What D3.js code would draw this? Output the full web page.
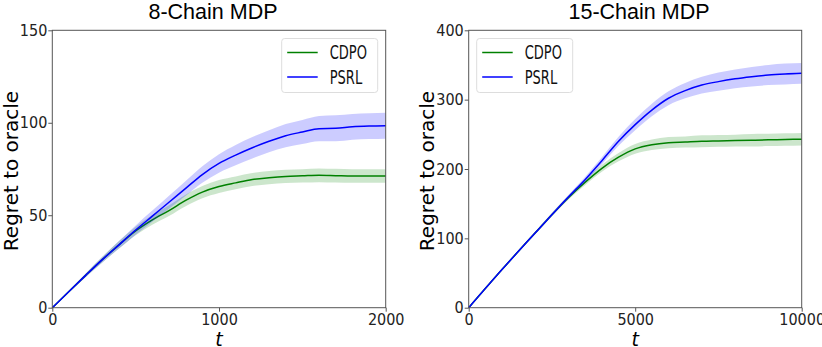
<!DOCTYPE html>
<html>
<head>
<meta charset="utf-8">
<script src="https://cdn.jsdelivr.net/npm/d3@7"></script>
<style>
  body { margin: 0; background: #fff; }
  svg { display: block; }
</style>
</head>
<body>
<svg width="822" height="347"></svg>
<script>
// ---- data ----
const seriesNames = ["CDPO", "PSRL"];
const seriesColors = ["#008000", "#0000ff"];

// 8-chain panel
const t8 = [0, 100, 200, 300, 400, 500, 600, 700, 800, 900, 1000, 1100, 1200, 1300, 1400, 1500, 1600, 1700, 1800, 1900, 2000];
const cdpo8 = [0, 8.8, 17.5, 26, 34, 41.5, 47.5, 52.5, 58, 62.5, 65.5, 67.5, 69.3, 70.3, 71, 71.3, 71.6, 71.4, 71.2, 71.2, 71.2];
const psrl8 = [0, 8.8, 17.5, 26, 34, 42, 49.5, 57, 64.5, 72, 78, 82.5, 86.5, 90, 93, 95, 96.8, 97, 97.8, 98.2, 98.4];
const cdpo8Err = [0, 0.5, 1, 1.5, 2, 2.3, 2.6, 2.9, 3.1, 3.3, 3.5, 3.5, 3.5, 3.6, 3.6, 3.6, 3.7, 3.7, 3.7, 3.7, 3.7];
const psrl8Err = [0, 0.5, 1, 1.5, 2, 2.5, 3, 3.5, 4, 4.5, 5, 5.5, 5.8, 6, 6.3, 6.5, 6.8, 7, 7, 7, 7];
const xTicks8 = [0, 1000, 2000];
const yTicks8 = [0, 50, 100, 150];

// 15-chain panel
const t15 = [0, 1000, 2000, 3000, 3500, 4000, 4500, 5000, 5500, 6000, 6500, 7000, 7500, 8000, 8500, 9000, 9500, 10000];
const cdpo15 = [0, 55, 108, 159, 181, 201, 217, 229, 235, 238, 239, 240, 240.5, 241, 241.5, 242, 242.5, 243];
const psrl15 = [0, 55, 108, 160, 185, 212, 240, 264, 285, 302, 313, 321, 326, 330, 333, 335.5, 337, 338];
const cdpo15Err = [0, 1, 2, 3, 4, 5, 6, 7, 7.5, 8, 8, 8.5, 8.5, 8.5, 9, 9, 9, 9];
const psrl15Err = [0, 1, 2, 3, 4, 5, 6.5, 8, 9, 10, 11, 12, 13, 13.5, 14, 14.5, 15, 15];
const xTicks15 = [0, 5000, 10000];
const yTicks15 = [0, 100, 200, 300, 400];

const svg = d3.select("svg");
const tickFont = "'Liberation Sans Narrow', 'DejaVu Sans Condensed', sans-serif";

function drawPanel(p) {
  const x = d3.scaleLinear([0, p.xMax], [p.left, p.right]);
  const y = d3.scaleLinear([0, p.yMax], [307.7, 30.3]);
  const g = svg.append("g");

  const series = [
    {vals: p.cdpo, err: p.cdpoErr, color: seriesColors[0]},
    {vals: p.psrl, err: p.psrlErr, color: seriesColors[1]}
  ];

  series.forEach(s => {
    const pts = p.t.map((t, i) => ({t: t, v: s.vals[i], e: s.err[i]}));
    g.append("path")
      .datum(pts)
      .attr("fill", s.color)
      .attr("fill-opacity", 0.2)
      .attr("stroke", "none")
      .attr("d", d3.area()
        .curve(d3.curveMonotoneX)
        .x(d => x(d.t))
        .y0(d => y(d.v - d.e))
        .y1(d => y(d.v + d.e)));
    g.append("path")
      .datum(pts)
      .attr("fill", "none")
      .attr("stroke", s.color)
      .attr("stroke-width", 1.5)
      .attr("d", d3.line()
        .curve(d3.curveMonotoneX)
        .x(d => x(d.t))
        .y(d => y(d.v)));
  });

  // frame
  g.append("rect")
    .attr("x", p.left).attr("y", 30.3)
    .attr("width", p.right - p.left).attr("height", 307.7 - 30.3)
    .attr("fill", "none").attr("stroke", "#555").attr("stroke-width", 1);

  const xAxis = g.append("g")
    .attr("transform", "translate(0,307.7)")
    .call(d3.axisBottom(x).tickValues(p.xTicks).tickSize(4).tickPadding(2).tickFormat(d3.format("d")));
  const yAxis = g.append("g")
    .attr("transform", `translate(${p.left},0)`)
    .call(d3.axisLeft(y).tickValues(p.yTicks).tickSize(4).tickPadding(1).tickFormat(d3.format("d")));
  [xAxis, yAxis].forEach(a => {
    a.select(".domain").remove();
    a.selectAll("line").attr("stroke", "#555");
    a.selectAll("text").attr("fill", "#222")
      .style("font-family", tickFont).style("font-size", "16px");
  });

  // title
  g.append("text")
    .attr("x", p.titleX).attr("y", 19)
    .attr("text-anchor", "middle")
    .style("font-family", "'Liberation Sans', Arial, sans-serif")
    .style("font-size", "21.5px")
    .text(p.title);

  // axis labels
  g.append("text")
    .attr("transform", `translate(${p.ylabX},171) rotate(-90)`)
    .attr("text-anchor", "middle")
    .style("font-family", "'DejaVu Sans', sans-serif")
    .style("font-size", "20px")
    .text("Regret to oracle");
  g.append("text")
    .attr("x", (p.left + p.right) / 2).attr("y", 345.5)
    .attr("text-anchor", "middle")
    .style("font-family", "'DejaVu Sans', sans-serif")
    .style("font-style", "italic")
    .style("font-size", "19px")
    .text("t");

  // legend
  const lg = g.append("g");
  lg.append("rect")
    .attr("x", p.legX).attr("y", 38.5)
    .attr("width", 96).attr("height", 54)
    .attr("rx", 3)
    .attr("fill", "#fff").attr("fill-opacity", 0.8)
    .attr("stroke", "#ddd");
  seriesNames.forEach((name, i) => {
    const cy = 52.5 + i * 24.5;
    lg.append("line")
      .attr("x1", p.legX + 5.5).attr("x2", p.legX + 36)
      .attr("y1", cy).attr("y2", cy)
      .attr("stroke", seriesColors[i]).attr("stroke-width", 1.5);
    lg.append("text")
      .attr("transform", `translate(${p.legX + 48},${cy + 6.5}) scale(1,1.3)`)
      .style("font-family", tickFont)
      .style("font-size", "14.5px")
      .attr("fill", "#111")
      .text(name);
  });
}

drawPanel({
  title: "8-Chain MDP", titleX: 213, left: 52.3, right: 385.7, xMax: 2000, yMax: 150,
  t: t8, cdpo: cdpo8, psrl: psrl8, cdpoErr: cdpo8Err, psrlErr: psrl8Err,
  xTicks: xTicks8, yTicks: yTicks8, ylabX: 18, legX: 281.7
});
drawPanel({
  title: "15-Chain MDP", titleX: 639, left: 468.7, right: 801.7, xMax: 10000, yMax: 400,
  t: t15, cdpo: cdpo15, psrl: psrl15, cdpoErr: cdpo15Err, psrlErr: psrl15Err,
  xTicks: xTicks15, yTicks: yTicks15, ylabX: 434, legX: 476.7
});
</script>
</body>
</html>
